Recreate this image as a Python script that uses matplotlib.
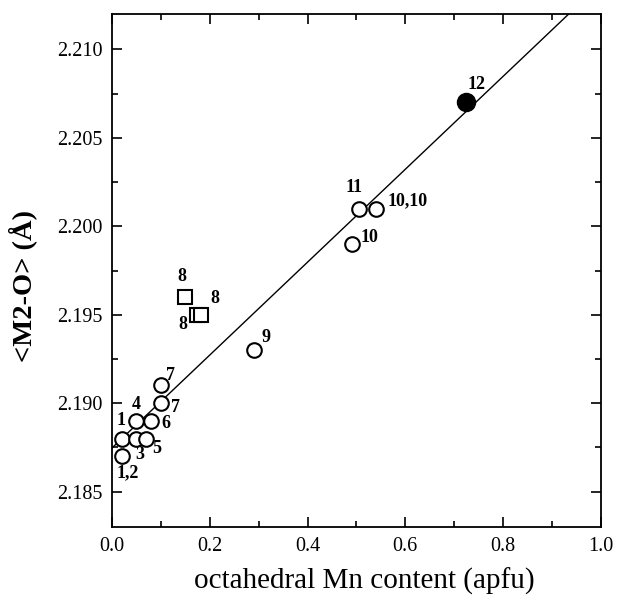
import matplotlib
matplotlib.use("Agg")
import matplotlib.pyplot as plt
from matplotlib.ticker import MultipleLocator, FormatStrFormatter

# open circles
circ_x = [0.02, 0.02, 0.05, 0.07, 0.05, 0.08, 0.10, 0.10, 0.29, 0.49, 0.505, 0.54]
circ_y = [2.187, 2.188, 2.188, 2.188, 2.189, 2.189, 2.190, 2.191, 2.193, 2.199, 2.201, 2.201]
circ_lab = ["1,2", "1", "3", "5", "4", "6", "7", "7", "9", "10", "11", "10,10"]
# label offsets (points) from the marker centre
circ_off = [(4.5, -12.2), (-0.7, 13), (2.4, -11.5), (7.7, -6.8), (0, 11.5), (10.3, -2.2),
            (10.8, -2.9), (7.2, 7.2), (8.9, 9.4), (13.2, 4.8), (-3.6, 15.1), (22.8, 6)]

# open squares
sq_x = [0.15, 0.173, 0.183]
sq_y = [2.196, 2.195, 2.195]
sq_lab = ["8", "8", "8"]
sq_off = [(-2.2, 15.1), (-9.9, -7.2), (9.4, 11.5)]

# filled circle
fill_x = [0.725]
fill_y = [2.207]
fill_lab = ["12"]
fill_off = [(7.2, 13.2)]

# regression line
fit_a = 2.18747
fit_b = 0.02626
fit_x = [0.0, 0.95]

plt.rcParams['font.family'] = ['Liberation Serif', 'DejaVu Serif']

fig = plt.figure(figsize=(6.17, 5.98), dpi=100)
ax = fig.add_axes([0.1815, 0.1187, 0.7925, 0.8579])

ax.plot(fit_x, [fit_a + fit_b * x for x in fit_x], color='black', lw=1.0, zorder=1)

ax.plot(circ_x, circ_y, 'o', ms=10.5, mfc='white', mec='black', mew=1.5, zorder=3)
ax.plot(sq_x, sq_y, 's', ms=10.5, mfc='white', mec='black', mew=1.5, zorder=3)
ax.plot(fill_x, fill_y, 'o', ms=13, mfc='black', mec='black', zorder=3)

for xs, ys, labs, offs in [(circ_x, circ_y, circ_lab, circ_off),
                           (sq_x, sq_y, sq_lab, sq_off),
                           (fill_x, fill_y, fill_lab, fill_off)]:
    for x, y, t, o in zip(xs, ys, labs, offs):
        ax.annotate(t, (x, y), xytext=o, textcoords='offset points',
                    fontsize=13, fontweight='bold', ha='center', va='center')

ax.set_xlim(0.0, 1.0)
ax.set_ylim(2.183, 2.212)
ax.xaxis.set_major_locator(MultipleLocator(0.2))
ax.xaxis.set_minor_locator(MultipleLocator(0.1))
ax.yaxis.set_major_locator(MultipleLocator(0.005))
ax.yaxis.set_minor_locator(MultipleLocator(0.0025))
ax.xaxis.set_major_formatter(FormatStrFormatter('%.1f'))
ax.yaxis.set_major_formatter(FormatStrFormatter('%.3f'))
ax.tick_params(which='both', direction='in', top=True, right=True, width=1.2)
ax.tick_params(which='major', length=7, labelsize=14.5)
ax.tick_params(axis='y', which='major', pad=6.5)
ax.tick_params(axis='x', which='major', pad=7)
ax.tick_params(which='minor', length=4)
for s in ax.spines.values():
    s.set_linewidth(1.3)

ax.set_xlabel("octahedral Mn content (apfu)", fontsize=21)
ax.xaxis.set_label_coords(0.517, -0.080)
ax.set_ylabel("<M2-O> (Å)", fontsize=20.5, fontweight='bold')
ax.yaxis.set_label_coords(-0.153, 0.469)

fig.savefig("out.png", dpi=100)
